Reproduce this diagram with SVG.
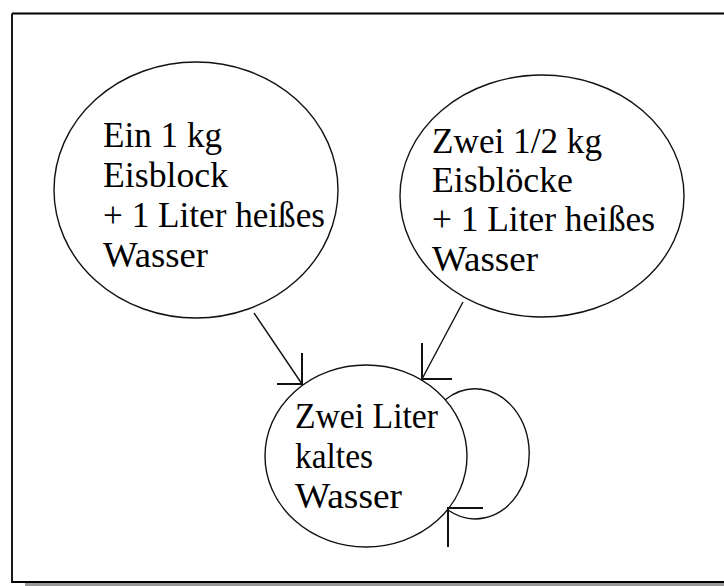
<svg xmlns="http://www.w3.org/2000/svg" width="724" height="586" viewBox="0 0 724 586">
<style>
.node{fill:#fff;stroke:#111;stroke-width:1.4}
.t{font-family:'Liberation Serif','Times New Roman',Times,serif;font-size:35px;fill:#000}
.edge{fill:none;stroke:#111;stroke-width:1.4}
.head{fill:none;stroke:#111;stroke-width:2}
</style>
<rect x="0" y="0" width="724" height="586" fill="#fff"/>
<rect x="25" y="582.5" width="699" height="3.5" fill="#999"/>
<path d="M12,13.5 H724 M12,13.5 V582 H724" fill="none" stroke="#000" stroke-width="1.8"/>
<g id="node1">
<ellipse class="node" cx="196" cy="190" rx="142" ry="128"/>
<text class="t"><tspan x="103" y="147" textLength="119" lengthAdjust="spacingAndGlyphs">Ein 1 kg</tspan></text>
<text class="t"><tspan x="103" y="187" textLength="125" lengthAdjust="spacingAndGlyphs">Eisblock</tspan></text>
<text class="t"><tspan x="103" y="227" textLength="222" lengthAdjust="spacingAndGlyphs">+ 1 Liter heißes</tspan></text>
<text class="t"><tspan x="103" y="267" textLength="105" lengthAdjust="spacingAndGlyphs">Wasser</tspan></text>
</g>
<g id="node2">
<ellipse class="node" cx="542" cy="196" rx="142" ry="121"/>
<text class="t"><tspan x="432" y="153" textLength="170" lengthAdjust="spacingAndGlyphs">Zwei 1/2 kg</tspan></text>
<text class="t"><tspan x="432" y="192" textLength="141" lengthAdjust="spacingAndGlyphs">Eisblöcke</tspan></text>
<text class="t"><tspan x="432" y="231" textLength="223" lengthAdjust="spacingAndGlyphs">+ 1 Liter heißes</tspan></text>
<text class="t"><tspan x="432" y="271" textLength="106" lengthAdjust="spacingAndGlyphs">Wasser</tspan></text>
</g>
<g id="node3">
<ellipse class="node" cx="366" cy="456" rx="101" ry="91"/>
<text class="t"><tspan x="295" y="428" textLength="143" lengthAdjust="spacingAndGlyphs">Zwei Liter</tspan></text>
<text class="t"><tspan x="295" y="468" textLength="78" lengthAdjust="spacingAndGlyphs">kaltes</tspan></text>
<text class="t"><tspan x="295" y="508" textLength="107" lengthAdjust="spacingAndGlyphs">Wasser</tspan></text>
</g>
<g id="connectors">
<path class="edge" d="M254,313 L302,384"/>
<path class="head" d="M302,353 V384 H277"/>
<path class="edge" d="M463,302 L422,379"/>
<path class="head" d="M422,343 V379 H452"/>
<path class="edge" d="M445,400 A54 65 0 1 1 448,510"/>
<path class="head" d="M483,508 H448 V547"/>
</g>
</svg>
